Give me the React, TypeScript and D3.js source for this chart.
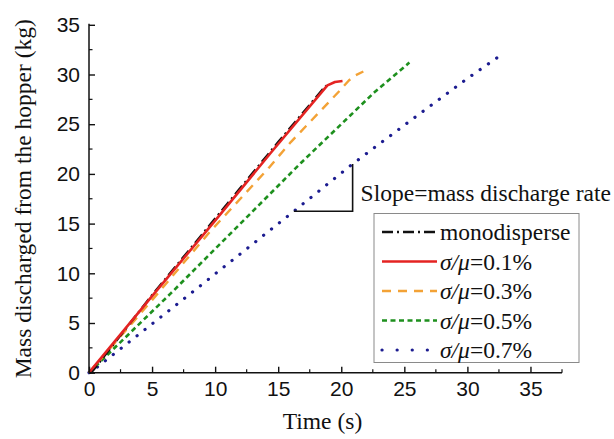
import { useEffect, useRef } from "react";
import * as d3 from "d3";

// ---------- DATA ----------
const monoT = [0, 0.3, 5, 10, 15, 18.8];
const monoM = [0, 0.2, 7.8, 15.5, 23.2, 28.9];

const s01T = [0, 5, 10, 14.4, 18.9, 19.5, 20.1];
const s01M = [0, 7.7, 15.3, 22.1, 28.9, 29.25, 29.35];

const s03T = [0, 5, 9.6, 14.25, 16, 19.9, 20.6, 21.1, 21.75];
const s03M = [0, 7.3, 14.2, 20.6, 23.2, 28.4, 29.4, 29.9, 30.3];

const s05T = [0, 6.5, 16.8, 22.7, 25.4];
const s05M = [0, 8.0, 21.1, 28.3, 31.2];

const s07T = [0, 0.6, 7, 16.2, 20.9, 25, 30, 32.6];
const s07M = [0, 0.5, 6.9, 16.2, 21.0, 24.9, 29.6, 31.9];

const xTicks = [0, 5, 10, 15, 20, 25, 30, 35];
const yTicks = [0, 5, 10, 15, 20, 25, 30, 35];

// slope triangle next to the sigma/mu = 0.7% line
const bracketT = [16.24, 20.9, 20.9];
const bracketM = [16.24, 16.24, 21.0];

const seriesList = [
  { key: "mono", label: "monodisperse", t: monoT, m: monoM, color: "#111111", width: 2.4, dash: "11,4,2,4", cap: "butt" },
  { key: "s01", label: "0.1%", t: s01T, m: s01M, color: "#e42322", width: 2.6, dash: null, cap: "butt" },
  { key: "s03", label: "0.3%", t: s03T, m: s03M, color: "#f3a236", width: 2.4, dash: "9,7", cap: "butt" },
  { key: "s05", label: "0.5%", t: s05T, m: s05M, color: "#1e901e", width: 2.6, dash: "5,3.5", cap: "butt" },
  { key: "s07", label: "0.7%", t: s07T, m: s07M, color: "#1c1c90", width: 3.2, dash: "0.1,10", cap: "round" },
];

const SERIF = '"Liberation Serif", "Times New Roman", serif';
const SANS = '"Liberation Sans", Arial, sans-serif';

export default function App() {
  const svgRef = useRef(null);

  useEffect(() => {
    const svg = d3.select(svgRef.current);
    svg.selectAll("*").remove();

    // DIMENSIONS
    const W = 614, H = 439;
    const left = 89, right = 562, top = 24.8, bottom = 372.7;

    const x = d3.scaleLinear().domain([0, 37.5]).range([left, right]);
    const y = d3.scaleLinear().domain([0, 35]).range([bottom, top]);

    svg.append("rect").attr("width", W).attr("height", H).attr("fill", "#fff");

    // ---------- LINES ----------
    const line = d3.line().x(d => x(d[0])).y(d => y(d[1]));
    // back-to-front so red sits over black like the figure
    const order = ["s07", "s05", "s03", "mono", "s01"];
    order.forEach(k => {
      const s = seriesList.find(d => d.key === k);
      const pts = s.t.map((t, i) => [t, s.m[i]]);
      svg.append("path")
        .attr("d", line(pts))
        .attr("fill", "none")
        .attr("stroke", s.color)
        .attr("stroke-width", s.width)
        .attr("stroke-linecap", s.cap)
        .attr("stroke-linejoin", "round")
        .attr("stroke-dasharray", s.dash);
    });

    // ---------- AXES ----------
    const axisX = d3.axisBottom(x).tickValues(xTicks).tickSize(-6).tickPadding(14).tickFormat(d3.format("d"));
    const axisY = d3.axisLeft(y).tickValues(yTicks).tickSize(-6).tickPadding(14).tickFormat(d3.format("d"));

    const gx = svg.append("g").attr("transform", `translate(0,${bottom})`).call(axisX);
    const gy = svg.append("g").attr("transform", `translate(${left},0)`).call(axisY);

    [gx, gy].forEach(g => {
      g.attr("font-family", SANS).attr("font-size", 21);
      g.select(".domain").attr("stroke", "#111").attr("stroke-width", 1.5);
      g.selectAll(".tick line").attr("stroke", "#111").attr("stroke-width", 1.4);
      g.selectAll(".tick text").attr("fill", "#111");
    });
    gx.select(".domain").attr("d", `M${left},0H${right}`);
    gy.select(".domain").attr("d", `M0,${bottom}V${top - 1}`);
    gx.selectAll(".tick text").attr("dy", "0.72em").attr("y", 8);
    gy.selectAll(".tick text").attr("x", -9);

    // minor ticks
    const minorX = d3.range(2.5, 37.6, 5);
    const minorY = d3.range(2.5, 35, 5);
    svg.append("g").selectAll("line").data(minorX).join("line")
      .attr("x1", d => x(d)).attr("x2", d => x(d))
      .attr("y1", bottom).attr("y2", bottom - 3.5)
      .attr("stroke", "#111").attr("stroke-width", 1.2);
    svg.append("g").selectAll("line").data(minorY).join("line")
      .attr("y1", d => y(d)).attr("y2", d => y(d))
      .attr("x1", left).attr("x2", left + 3.5)
      .attr("stroke", "#111").attr("stroke-width", 1.2);

    // titles
    const serifText = (sel) => sel.attr("font-family", SERIF).attr("font-size", 23.5).attr("fill", "#111");

    svg.append("text")
      .attr("x", (left + right) / 2 - 3).attr("y", 429)
      .attr("text-anchor", "middle")
      .call(serifText)
      .text("Time (s)");

    svg.append("text")
      .attr("transform", `translate(31,${(top + bottom) / 2}) rotate(-90)`)
      .attr("text-anchor", "middle")
      .call(serifText)
      .text("Mass discharged from the hopper (kg)");

    // ---------- SLOPE ANNOTATION ----------
    const br = bracketT.map((t, i) => [t, bracketM[i]]);
    svg.append("path")
      .attr("d", line(br))
      .attr("fill", "none").attr("stroke", "#111").attr("stroke-width", 1.6);
    svg.append("text")
      .attr("x", x(bracketT[2]) + 8).attr("y", 200.5)
      .call(serifText)
      .text("Slope=mass discharge rate");

    // ---------- LEGEND ----------
    const lg = svg.append("g");
    lg.append("rect")
      .attr("x", 374).attr("y", 213.5).attr("width", 205).attr("height", 149)
      .attr("fill", "#fff").attr("stroke", "#8a8a8a").attr("stroke-width", 1);

    const rowY = d3.scalePoint().domain(seriesList.map(d => d.key)).range([232, 350]);
    seriesList.forEach(s => {
      const cy = rowY(s.key);
      lg.append("line")
        .attr("x1", 382).attr("x2", 437).attr("y1", cy).attr("y2", cy)
        .attr("stroke", s.color).attr("stroke-width", s.width)
        .attr("stroke-linecap", s.cap)
        .attr("stroke-dasharray", s.key === "s07" ? "0.1,15" : s.dash);
      const tx = lg.append("text")
        .attr("x", 440).attr("y", cy + 8)
        .call(serifText);
      if (s.key === "mono") {
        tx.text(s.label);
      } else {
        tx.append("tspan").attr("font-style", "italic").text("σ/μ");
        tx.append("tspan").text("=" + s.label);
      }
    });
  }, []);

  return (
    <div style={{ position: "absolute", left: 0, top: 0 }}>
      <svg ref={svgRef} width={614} height={439} />
    </div>
  );
}
